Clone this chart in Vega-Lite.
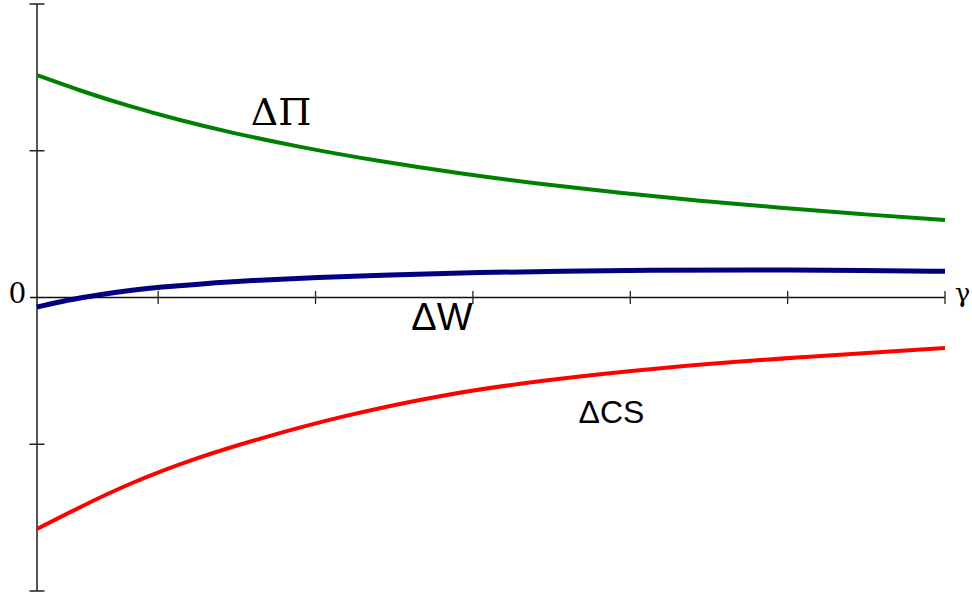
{
  "$schema": "https://vega.github.io/schema/vega-lite/v6.json",
  "width": 908,
  "height": 587,
  "autosize": {"type": "none"},
  "padding": {"left": 37, "top": 4, "right": 27, "bottom": 4},
  "background": "white",
  "config": {"view": {"stroke": null}},
  "datasets": {
    "curves": [
      {"series": "Pi", "x": 0.230, "y": 1.5155},
      {"series": "Pi", "x": 0.5032, "y": 1.4092},
      {"series": "Pi", "x": 0.8210, "y": 1.3015},
      {"series": "Pi", "x": 1.1387, "y": 1.2075},
      {"series": "Pi", "x": 1.4564, "y": 1.1250},
      {"series": "Pi", "x": 1.9012, "y": 1.0242},
      {"series": "Pi", "x": 2.4096, "y": 0.9274},
      {"series": "Pi", "x": 2.9179, "y": 0.8450},
      {"series": "Pi", "x": 3.4263, "y": 0.7741},
      {"series": "Pi", "x": 3.9346, "y": 0.7128},
      {"series": "Pi", "x": 4.4430, "y": 0.6590},
      {"series": "Pi", "x": 4.9513, "y": 0.6112},
      {"series": "Pi", "x": 5.4597, "y": 0.5683},
      {"series": "Pi", "x": 6.0, "y": 0.5281},
      {"series": "CS", "x": 0.230, "y": -1.5775},
      {"series": "CS", "x": 0.5032, "y": -1.4276},
      {"series": "CS", "x": 0.8210, "y": -1.2641},
      {"series": "CS", "x": 1.2467, "y": -1.0903},
      {"series": "CS", "x": 1.6661, "y": -0.9540},
      {"series": "CS", "x": 2.1554, "y": -0.8109},
      {"series": "CS", "x": 2.7909, "y": -0.6644},
      {"series": "CS", "x": 3.4263, "y": -0.5656},
      {"series": "CS", "x": 4.1888, "y": -0.4770},
      {"series": "CS", "x": 5.0784, "y": -0.4055},
      {"series": "CS", "x": 6.0, "y": -0.3441},
      {"series": "W", "x": 0.230, "y": -0.0647},
      {"series": "W", "x": 0.4206, "y": -0.0170},
      {"series": "W", "x": 0.6303, "y": 0.0204},
      {"series": "W", "x": 0.8400, "y": 0.0511},
      {"series": "W", "x": 1.0116, "y": 0.0715},
      {"series": "W", "x": 1.2658, "y": 0.0920},
      {"series": "W", "x": 1.5835, "y": 0.1158},
      {"series": "W", "x": 1.9966, "y": 0.1363},
      {"series": "W", "x": 2.5367, "y": 0.1567},
      {"series": "W", "x": 3.0451, "y": 0.1704},
      {"series": "W", "x": 3.5534, "y": 0.1792},
      {"series": "W", "x": 4.1253, "y": 0.1853},
      {"series": "W", "x": 4.7608, "y": 0.1887},
      {"series": "W", "x": 5.5233, "y": 0.1853},
      {"series": "W", "x": 6.0, "y": 0.1785}
    ],
    "axislines": [
      {"kind": "y", "x": 0.230, "x2": 0.230, "y": -2, "y2": 2},
      {"kind": "x", "x": 0.186, "x2": 6.0, "y": 0, "y2": 0}
    ],
    "yticks": [
      {"x": 0.230, "y": 2},
      {"x": 0.230, "y": 1},
      {"x": 0.230, "y": -1},
      {"x": 0.230, "y": -2}
    ],
    "xticks": [
      {"x": 1, "y": 0},
      {"x": 2, "y": 0},
      {"x": 3, "y": 0},
      {"x": 4, "y": 0},
      {"x": 5, "y": 0},
      {"x": 6, "y": 0}
    ],
    "labels": [
      {"kind": "serifbig", "text": "ΔΠ", "x": 1.7805, "y": 1.1755},
      {"kind": "sansbig", "text": "ΔW", "x": 2.8036, "y": -0.2215},
      {"kind": "sans", "text": "ΔCS", "x": 3.8807, "y": -0.8552},
      {"kind": "gamma", "text": "γ", "x": 6.112, "y": -0.031},
      {"kind": "serif", "text": "0", "x": 0.1061, "y": -0.0375}
    ]
  },
  "encoding": {
    "x": {"field": "x", "type": "quantitative", "scale": {"domain": [0.23, 6], "nice": false, "zero": false}, "axis": null},
    "y": {"field": "y", "type": "quantitative", "scale": {"domain": [-2, 2], "nice": false, "zero": false}, "axis": null}
  },
  "layer": [
    {
      "data": {"name": "axislines"},
      "transform": [{"filter": "datum.kind === 'y'"}],
      "mark": {"type": "rule", "color": "#555555", "strokeWidth": 2},
      "encoding": {"x2": {"field": "x2"}, "y2": {"field": "y2"}}
    },
    {
      "data": {"name": "axislines"},
      "transform": [{"filter": "datum.kind === 'x'"}],
      "mark": {"type": "rule", "color": "#111111", "strokeWidth": 1.3},
      "encoding": {"x2": {"field": "x2"}, "y2": {"field": "y2"}}
    },
    {
      "data": {"name": "yticks"},
      "mark": {"type": "tick", "orient": "horizontal", "size": 15, "thickness": 1.5, "color": "#222222", "opacity": 1}
    },
    {
      "data": {"name": "xticks"},
      "mark": {"type": "tick", "orient": "vertical", "size": 13, "thickness": 1.3, "color": "#222222", "opacity": 1}
    },
    {
      "data": {"name": "curves"},
      "transform": [{"filter": "datum.series === 'Pi'"}],
      "mark": {"type": "line", "color": "#008000", "strokeWidth": 4, "interpolate": "basis"}
    },
    {
      "data": {"name": "curves"},
      "transform": [{"filter": "datum.series === 'CS'"}],
      "mark": {"type": "line", "color": "#ff0000", "strokeWidth": 4, "interpolate": "basis"}
    },
    {
      "data": {"name": "curves"},
      "transform": [{"filter": "datum.series === 'W'"}],
      "mark": {"type": "line", "color": "#000080", "strokeWidth": 5, "interpolate": "basis"}
    },
    {
      "data": {"name": "labels"},
      "transform": [{"filter": "datum.kind === 'serifbig'"}],
      "mark": {"type": "text", "font": "DejaVu Serif", "fontSize": 38, "align": "center", "baseline": "alphabetic", "color": "#000000"},
      "encoding": {"text": {"field": "text"}}
    },
    {
      "data": {"name": "labels"},
      "transform": [{"filter": "datum.kind === 'sansbig'"}],
      "mark": {"type": "text", "font": "Liberation Sans", "fontSize": 38, "align": "center", "baseline": "alphabetic", "color": "#000000"},
      "encoding": {"text": {"field": "text"}}
    },
    {
      "data": {"name": "labels"},
      "transform": [{"filter": "datum.kind === 'sans'"}],
      "mark": {"type": "text", "font": "Liberation Sans", "fontSize": 32, "align": "center", "baseline": "alphabetic", "color": "#000000"},
      "encoding": {"text": {"field": "text"}}
    },
    {
      "data": {"name": "labels"},
      "transform": [{"filter": "datum.kind === 'serif'"}],
      "mark": {"type": "text", "font": "DejaVu Serif", "fontSize": 28, "align": "center", "baseline": "alphabetic", "color": "#000000"},
      "encoding": {"text": {"field": "text"}}
    },
    {
      "data": {"name": "labels"},
      "transform": [{"filter": "datum.kind === 'gamma'"}],
      "mark": {"type": "text", "font": "DejaVu Serif", "fontSize": 26, "align": "center", "baseline": "alphabetic", "color": "#000000"},
      "encoding": {"text": {"field": "text"}}
    }
  ]
}
